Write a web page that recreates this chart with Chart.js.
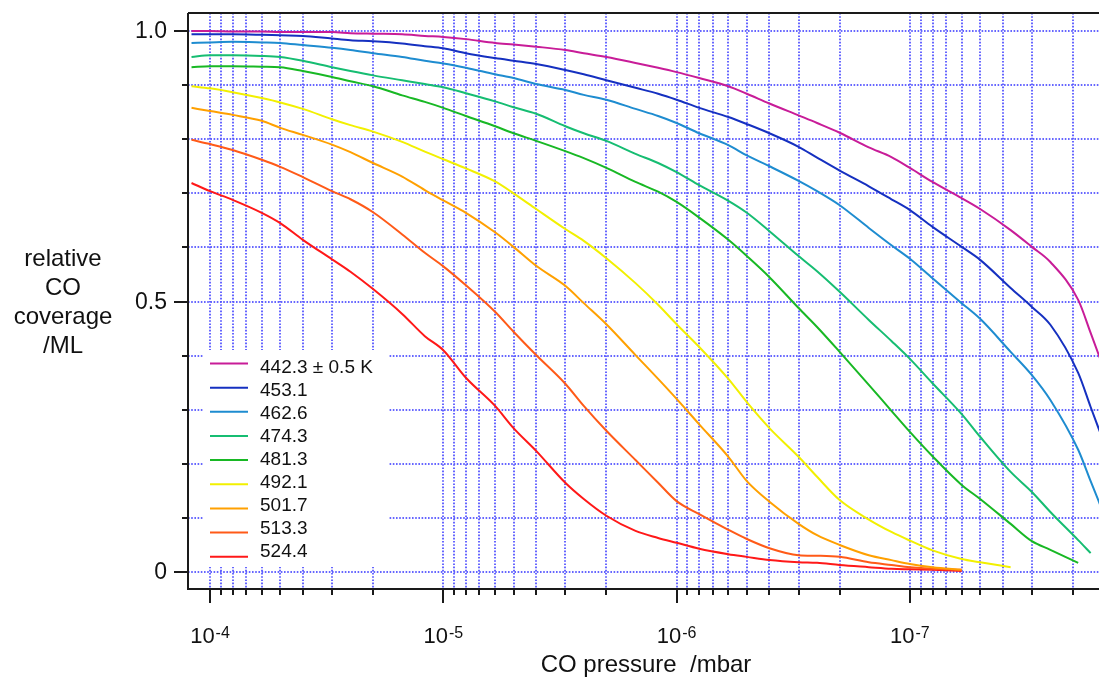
<!DOCTYPE html>
<html>
<head>
<meta charset="utf-8">
<script src="https://cdn.jsdelivr.net/npm/chart.js@4.4.1/dist/chart.umd.min.js"></script>
<style>
  html, body { margin: 0; padding: 0; background: #ffffff; overflow: hidden; }
  #wrap { position: relative; width: 1099px; height: 677px; }
</style>
</head>
<body>
<div id="wrap"><canvas id="c" width="1099" height="677"></canvas></div>
<script>
// ---------------- data ----------------
const pressure = [1.2e-4, 1e-4, 8e-5, 6e-5, 5e-5, 4e-5, 3e-5, 2.5e-5, 2e-5, 1.5e-5,
  1.2e-5, 1e-5, 8e-6, 6e-6, 5e-6, 4e-6, 3e-6, 2.5e-6, 2e-6, 1.5e-6,
  1.2e-6, 1e-6, 8e-7, 6e-7, 5e-7, 4e-7, 3e-7, 2.5e-7, 2e-7, 1.5e-7,
  1.2e-7, 1e-7, 8e-8, 6e-8, 5e-8, 3.7e-8, 3e-8, 2.5e-8, 1.9e-8, 1.68e-8, 1.5e-8];

const seriesLabels = ['442.3 \u00b1 0.5 K', '453.1', '462.6', '474.3', '481.3', '492.1', '501.7', '513.3', '524.4'];

const cov442 = [1.000, 1.000, 0.999, 0.999, 0.998, 0.998, 0.998, 0.996, 0.995, 0.994,
  0.991, 0.989, 0.985, 0.978, 0.975, 0.971, 0.965, 0.959, 0.952, 0.941,
  0.932, 0.924, 0.913, 0.898, 0.884, 0.866, 0.844, 0.830, 0.812, 0.785,
  0.767, 0.747, 0.721, 0.691, 0.671, 0.632, 0.601, 0.573, 0.503, 0.442, 0.384];
const cov453 = [0.994, 0.994, 0.994, 0.993, 0.992, 0.991, 0.986, 0.983, 0.981, 0.977,
  0.972, 0.968, 0.959, 0.950, 0.945, 0.939, 0.928, 0.920, 0.909, 0.895,
  0.884, 0.873, 0.858, 0.841, 0.828, 0.811, 0.786, 0.766, 0.742, 0.713,
  0.689, 0.669, 0.638, 0.601, 0.577, 0.525, 0.490, 0.457, 0.368, 0.305, 0.248];
const cov462 = [0.978, 0.979, 0.980, 0.979, 0.978, 0.974, 0.969, 0.965, 0.959, 0.952,
  0.945, 0.940, 0.932, 0.920, 0.913, 0.902, 0.891, 0.882, 0.873, 0.856,
  0.843, 0.830, 0.811, 0.789, 0.770, 0.750, 0.723, 0.704, 0.678, 0.636,
  0.604, 0.579, 0.543, 0.497, 0.468, 0.407, 0.364, 0.318, 0.226, 0.168, 0.115];
const cov474 = [0.952, 0.955, 0.955, 0.954, 0.952, 0.945, 0.933, 0.926, 0.918, 0.909,
  0.902, 0.896, 0.885, 0.870, 0.859, 0.847, 0.824, 0.811, 0.797, 0.773,
  0.756, 0.739, 0.715, 0.686, 0.664, 0.630, 0.584, 0.556, 0.518, 0.466,
  0.427, 0.394, 0.349, 0.292, 0.250, 0.185, 0.148, 0.111, 0.059, 0.035, null];
const cov481 = [0.933, 0.935, 0.935, 0.934, 0.933, 0.926, 0.915, 0.907, 0.898, 0.881,
  0.869, 0.858, 0.843, 0.824, 0.811, 0.797, 0.778, 0.765, 0.747, 0.721,
  0.703, 0.684, 0.655, 0.614, 0.584, 0.545, 0.488, 0.453, 0.407, 0.346,
  0.298, 0.259, 0.214, 0.161, 0.135, 0.089, 0.057, 0.041, 0.017, null, null];
const cov492 = [0.898, 0.894, 0.887, 0.876, 0.868, 0.856, 0.837, 0.826, 0.814, 0.795,
  0.777, 0.763, 0.746, 0.722, 0.700, 0.671, 0.634, 0.612, 0.580, 0.534,
  0.494, 0.458, 0.416, 0.357, 0.314, 0.266, 0.213, 0.176, 0.133, 0.097,
  0.074, 0.058, 0.040, 0.024, 0.018, 0.009, null, null, null, null, null];
const cov501 = [0.858, 0.852, 0.845, 0.834, 0.821, 0.808, 0.790, 0.776, 0.756, 0.731,
  0.706, 0.687, 0.664, 0.628, 0.601, 0.566, 0.529, 0.497, 0.458, 0.401,
  0.357, 0.320, 0.273, 0.213, 0.168, 0.130, 0.089, 0.068, 0.050, 0.031,
  0.022, 0.015, 0.009, 0.004, null, null, null, null, null, null, null];
const cov513 = [0.799, 0.791, 0.780, 0.762, 0.749, 0.730, 0.704, 0.689, 0.665, 0.624,
  0.590, 0.565, 0.530, 0.481, 0.444, 0.401, 0.348, 0.307, 0.261, 0.207,
  0.165, 0.131, 0.107, 0.078, 0.061, 0.044, 0.031, 0.030, 0.028, 0.018,
  0.013, 0.009, 0.006, 0.004, null, null, null, null, null, null, null];
const cov524 = [0.719, 0.704, 0.688, 0.664, 0.645, 0.614, 0.578, 0.555, 0.523, 0.477,
  0.436, 0.410, 0.359, 0.307, 0.266, 0.224, 0.165, 0.135, 0.104, 0.076,
  0.063, 0.054, 0.043, 0.033, 0.028, 0.022, 0.018, 0.017, 0.013, 0.009,
  0.006, 0.005, 0.004, 0.002, null, null, null, null, null, null, null];

const seriesValues = [cov442, cov453, cov462, cov474, cov481, cov492, cov501, cov513, cov524];
const seriesColors = ['#c81c98', '#1530c0', '#1e8cd0', '#16bd72', '#18b824', '#f2f000', '#ffa000', '#ff5a18', '#ff1818'];

// axis ticks
const xMajorTicks = [1e-4, 1e-5, 1e-6, 1e-7];
const xMajorExponents = ['-4', '-5', '-6', '-7'];
const xMinorTicks = [9e-5, 8e-5, 7e-5, 6e-5, 5e-5, 4e-5, 3e-5, 2e-5,
  9e-6, 8e-6, 7e-6, 6e-6, 5e-6, 4e-6, 3e-6, 2e-6,
  9e-7, 8e-7, 7e-7, 6e-7, 5e-7, 4e-7, 3e-7, 2e-7,
  9e-8, 8e-8, 7e-8, 6e-8, 5e-8, 4e-8, 3e-8, 2e-8];
const yTicks = [0, 0.1, 0.2, 0.3, 0.4, 0.5, 0.6, 0.7, 0.8, 0.9, 1.0];
const yTickLabels = ['0', '', '', '', '', '0.5', '', '', '', '', '1.0'];
const yTitleLines = ['relative', 'CO', 'coverage', '/ML'];
const xTitle = 'CO pressure  /mbar';

// ---------------- chart ----------------
const FONT = "'Liberation Sans', Arial, Helvetica, sans-serif";
const GRID = 'rgba(85,85,255,0.9)';

const datasets = seriesValues.map((vals, i) => ({
  label: seriesLabels[i],
  data: pressure.map((p, j) => ({ x: p, y: vals[j] })).filter(pt => pt.y !== null),
  borderColor: seriesColors[i],
  backgroundColor: seriesColors[i],
  borderWidth: 2,
  pointRadius: 0,
  cubicInterpolationMode: 'monotone',
  fill: false
}));

const decorPlugin = {
  id: 'decor',
  afterDraw(chart) {
    const ctx = chart.ctx;
    const a = chart.chartArea;
    const xs = chart.scales.x, ys = chart.scales.y;
    ctx.save();
    // ---- frame ----
    ctx.strokeStyle = '#1a1a1a';
    ctx.lineWidth = 2;
    ctx.beginPath();
    ctx.moveTo(a.left, a.top); ctx.lineTo(a.right + 2, a.top);
    ctx.moveTo(a.left, a.top); ctx.lineTo(a.left, a.bottom);
    ctx.moveTo(a.left - 1, a.bottom); ctx.lineTo(a.right + 2, a.bottom);
    ctx.stroke();
    // ---- y ticks ----
    ctx.beginPath();
    yTicks.forEach((v, i) => {
      const y = Math.round(ys.getPixelForValue(v));
      const len = yTickLabels[i] ? 14 : 6;
      ctx.moveTo(a.left - len, y); ctx.lineTo(a.left, y);
    });
    // ---- x ticks ----
    xMajorTicks.forEach(v => {
      const x = Math.round(xs.getPixelForValue(v));
      ctx.moveTo(x, a.bottom); ctx.lineTo(x, a.bottom + 14);
    });
    xMinorTicks.forEach(v => {
      const x = Math.round(xs.getPixelForValue(v));
      ctx.moveTo(x, a.bottom); ctx.lineTo(x, a.bottom + 6);
    });
    ctx.stroke();
    // ---- y tick labels ----
    ctx.fillStyle = '#111';
    ctx.font = '23px ' + FONT;
    ctx.textAlign = 'right';
    ctx.textBaseline = 'middle';
    yTicks.forEach((v, i) => {
      if (yTickLabels[i]) ctx.fillText(yTickLabels[i], a.left - 21, ys.getPixelForValue(v) + 1);
    });
    // ---- x tick labels (10 with superscript exponent) ----
    ctx.textBaseline = 'alphabetic';
    ctx.textAlign = 'left';
    xMajorTicks.forEach((v, i) => {
      const x = xs.getPixelForValue(v);
      ctx.font = '22px ' + FONT;
      const w1 = ctx.measureText('10').width;
      ctx.font = '16px ' + FONT;
      const w2 = ctx.measureText(xMajorExponents[i]).width;
      const start = x - (w1 + w2 + 1) / 2;
      ctx.font = '22px ' + FONT;
      ctx.fillText('10', start, 643);
      ctx.font = '16px ' + FONT;
      ctx.fillText(xMajorExponents[i], start + w1 + 1, 638);
    });
    // ---- axis titles ----
    ctx.textAlign = 'center';
    ctx.font = '24px ' + FONT;
    ctx.fillText(xTitle, 646, 672);
    yTitleLines.forEach((t, i) => ctx.fillText(t, 63, 266 + i * 29));
    // ---- legend ----
    ctx.fillStyle = '#ffffff';
    ctx.fillRect(203, 350, 185, 217);
    ctx.lineWidth = 2;
    chart.data.datasets.forEach((ds, i) => {
      const ly = 363.5 + i * 24.15;
      ctx.strokeStyle = ds.borderColor;
      ctx.beginPath();
      ctx.moveTo(210, ly); ctx.lineTo(248, ly);
      ctx.stroke();
      ctx.fillStyle = '#111';
      ctx.font = '19px ' + FONT;
      ctx.textAlign = 'left';
      ctx.textBaseline = 'middle';
      ctx.fillText(ds.label, 260, 368 + i * 22.95);
    });
    ctx.restore();
  }
};

new Chart(document.getElementById('c'), {
  type: 'line',
  data: { datasets },
  options: {
    responsive: false,
    animation: false,
    devicePixelRatio: 1,
    layout: { padding: { top: 13, right: 0, left: 0, bottom: 0 } },
    plugins: { legend: { display: false }, tooltip: { enabled: false } },
    elements: { point: { radius: 0 } },
    scales: {
      x: {
        type: 'logarithmic',
        reverse: true,
        min: 1.547e-8,
        max: 1.2424e-4,
        afterBuildTicks: s => { s.ticks = xMajorTicks.concat(xMinorTicks).map(v => ({ value: v })); },
        afterFit: s => { s.height = 88; },
        grid: { color: GRID, lineWidth: 2, drawTicks: false },
        border: { display: false, dash: [1.6, 1.6] },
        ticks: { display: false }
      },
      y: {
        type: 'linear',
        min: -0.0314,
        max: 1.0333,
        afterBuildTicks: s => { s.ticks = yTicks.map(v => ({ value: v })); },
        afterFit: s => { s.width = 188; },
        grid: { color: GRID, lineWidth: 2, drawTicks: false },
        border: { display: false, dash: [1.6, 1.6] },
        ticks: { display: false }
      }
    }
  },
  plugins: [decorPlugin]
});
</script>
</body>
</html>
